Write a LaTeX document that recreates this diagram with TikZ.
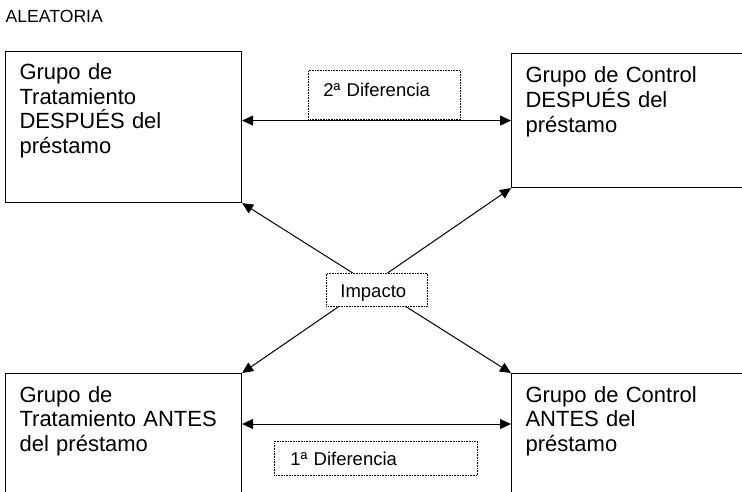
\documentclass[tikz,border=0pt]{standalone}
\usepackage{fontspec}
\setmainfont{Liberation Sans}
\usetikzlibrary{arrows.meta}
\begin{document}
\begin{tikzpicture}[x=1pt,y=-1pt,
  groupbox/.style={draw=black,line width=1.1pt,anchor=north west,inner sep=0pt,inner xsep=14pt,
    align=left,font=\fontsize{22}{24.7}\selectfont},
  labelbox/.style={draw=black,line width=0.8pt,dash pattern=on 0.8pt off 0.8pt,anchor=north west,
    inner sep=0pt,align=left,font=\fontsize{18.5}{21}\selectfont},
  dbl/.style={line width=1pt,{Triangle[length=11pt,width=10pt]}-{Triangle[length=11pt,width=10pt]}}]
\clip (0,0) rectangle (742,491);
\node[anchor=base west,inner sep=0pt,font=\fontsize{17.6}{20}\selectfont] (title) at (5.5,22.7) {ALEATORIA};
% group boxes
\node[groupbox,text width=208pt,text height=28pt,text depth=123pt] (tl) at (5,51)
  {Grupo de\\Tratamiento\\DESPUÉS del\\préstamo};
\node[groupbox,text width=222pt,text height=29.3pt,text depth=104.7pt] (tr) at (511,53)
  {Grupo de Control\\DESPUÉS del\\préstamo};
\node[groupbox,text width=208pt,text height=28.7pt,text depth=140pt] (bl) at (5,373)
  {Grupo de\\Tratamiento ANTES\\del préstamo};
\node[groupbox,text width=222pt,text height=28.7pt,text depth=140pt] (br) at (511,373)
  {Grupo de Control\\ANTES del\\préstamo};
% connectors
\coordinate (d1) at (376,424);
\draw[dbl] (tl.east |- tr.west) -- (tr.west);
\draw[dbl] (bl.east |- d1) -- (br.west |- d1);
\draw[dbl] (tl.south east) -- (br.north west);
\draw[dbl] (bl.north east) -- (tr.south west);
% labels
\node[labelbox,inner xsep=15pt,text width=122pt,text height=25.7pt,text depth=23.3pt] (dif2) at (308,70) {2ª Diferencia};
\node[labelbox,fill=white,inner xsep=14pt,text width=73pt,text height=23.7pt,text depth=9.3pt] (imp) at (326,273) {Impacto};
\node[labelbox,inner xsep=16pt,text width=171pt,text height=24pt,text depth=10pt] (dif1) at (274,441) {1ª Diferencia};
\end{tikzpicture}
\end{document}
